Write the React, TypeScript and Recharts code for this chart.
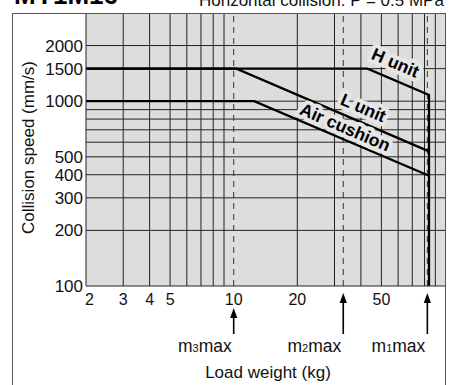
import React from 'react';
import { ComposedChart, Line, XAxis, YAxis, CartesianGrid, ReferenceLine } from 'recharts';

// Axis ticks and grid values (log-log chart)
const loadTicks = [2, 3, 4, 5, 10, 20, 50];
const speedTicks = [100, 200, 300, 400, 500, 1000, 1500, 2000];
const loadGrid = [3, 4, 5, 6, 7, 8, 9, 20, 30, 40, 50, 60, 70, 80, 90];
const speedGrid = [200, 300, 400, 500, 600, 700, 800, 900, 1000, 1500, 2000];

// Maximum load weights m3, m2, m1 (kg)
const maxLoads = [10, 33, 82.5];
const maxLoadIndex = ['3', '2', '1'];

// Allowable collision speed curves
const hUnitLoad = [2, 43, 84, 84];
const hUnitSpeed = [1500, 1500, 1080, 100];
const lUnitLoad = [2, 10.3, 84];
const lUnitSpeed = [1500, 1500, 535];
const airLoad = [2, 12.5, 84];
const airSpeed = [1000, 1000, 395];

const toPoints = (load: number[], speed: number[]) =>
  load.map((x, i) => ({ load: x, speed: speed[i] }));

const hUnit = toPoints(hUnitLoad, hUnitSpeed);
const lUnit = toPoints(lUnitLoad, lUnitSpeed);
const airCushion = toPoints(airLoad, airSpeed);

const FONT = '"Liberation Sans", Arial, Helvetica, sans-serif';
const BG = '#dddddd';
const SLOPE_ANGLE = 23.3;

function LoadTick(props: any) {
  const { x, y, payload } = props;
  const first = payload.value === loadTicks[0];
  return (
    <text
      x={first ? x - 1 : x}
      y={y}
      dy="0.71em"
      textAnchor={first ? 'start' : 'middle'}
      fontSize={16}
      fill="#111"
      fontFamily={FONT}
    >
      {payload.value}
    </text>
  );
}

function MaxLoadTick(props: any) {
  const { x, y, payload } = props;
  const i = maxLoads.indexOf(payload.value);
  // an arrow under a labelled tick starts below that label
  const top = loadTicks.includes(payload.value) ? y : y - 15;
  const bottom = y + 26;
  return (
    <g>
      <line x1={x} x2={x} y1={top + 8} y2={bottom} stroke="#000" strokeWidth={1.6} />
      <path d={`M${x},${top} L${x - 3.6},${top + 10} L${x + 3.6},${top + 10} Z`} fill="#000" />
      <text x={x - 2} y={y + 44} textAnchor="end" fontSize={17.5} fill="#111" fontFamily={FONT}>
        m<tspan fontSize={11}>{maxLoadIndex[i]}</tspan>max
      </text>
    </g>
  );
}

// Rotated curve name with a light halo that clears the grid behind it
const curveLabel = (text: string, dx: number, dy: number) => (props: any) => {
  const { x, y, index } = props;
  if (index !== 1) return <g key={`${text}-skip-${index}`} />;
  const common = {
    transform: `translate(${x + dx},${y + dy}) rotate(${SLOPE_ANGLE})`,
    textAnchor: 'middle' as const,
    dy: '0.35em',
    fontSize: 17.5,
    fontWeight: 'bold' as const,
    fontFamily: FONT,
  };
  return (
    <g key={`${text}-label`}>
      <text {...common} fill="#e6e6e6" stroke="#e6e6e6" strokeWidth={8} strokeLinejoin="round">
        {text}
      </text>
      <text {...common} fill="#000">
        {text}
      </text>
    </g>
  );
};

export default function App() {
  return (
    <div style={{ position: 'absolute', left: 0, top: 0, width: 449, height: 385, overflow: 'hidden', background: '#fff', fontFamily: FONT }}>
      <ComposedChart
        width={449}
        height={385}
        margin={{ top: 13, right: 4, left: 26, bottom: 7 }}
        style={{ fontFamily: FONT }}
      >
        <CartesianGrid
          xAxisId="load"
          yAxisId="speed"
          fill={BG}
          fillOpacity={1}
          stroke="#222"
          strokeWidth={1}
          horizontalValues={speedGrid}
          verticalValues={loadGrid}
        />
        <XAxis
          xAxisId="load"
          dataKey="load"
          type="number"
          scale="log"
          domain={[2, 100]}
          allowDataOverflow
          ticks={loadTicks}
          interval={0}
          tick={<LoadTick />}
          tickLine={false}
          tickSize={0}
          tickMargin={8}
          height={22}
          axisLine={{ stroke: '#222', strokeWidth: 1 }}
        />
        <XAxis
          xAxisId="mmax"
          dataKey="load"
          type="number"
          scale="log"
          domain={[2, 100]}
          allowDataOverflow
          ticks={maxLoads}
          interval={0}
          tick={<MaxLoadTick />}
          tickLine={false}
          tickSize={0}
          tickMargin={0}
          height={70}
          axisLine={false}
          label={{
            content: (p: any) => {
              const vb = p.viewBox || {};
              return (
                <text x={vb.x + vb.width / 2 + 2.5} y={vb.y + vb.height} textAnchor="middle" fontSize={17} fill="#111" fontFamily={FONT}>
                  Load weight (kg)
                </text>
              );
            },
          }}
        />
        <YAxis
          yAxisId="speed"
          dataKey="speed"
          type="number"
          scale="log"
          domain={[100, 3000]}
          allowDataOverflow
          ticks={speedTicks}
          interval={0}
          tick={{ fontSize: 17, fill: '#111', fontFamily: FONT }}
          tickLine={false}
          tickSize={0}
          tickMargin={3}
          width={60}
          axisLine={{ stroke: '#222', strokeWidth: 1 }}
          label={{
            content: (p: any) => {
              const vb = p.viewBox || {};
              return (
                <text
                  transform={`translate(${vb.x + 7.5},${vb.y + vb.height / 2 - 2}) rotate(-90)`}
                  textAnchor="middle"
                  fontSize={17}
                  fill="#111"
                  fontFamily={FONT}
                >
                  Collision speed (mm/s)
                </text>
              );
            },
          }}
        />
        {maxLoads.map((m) => (
          <ReferenceLine
            key={m}
            xAxisId="load"
            yAxisId="speed"
            x={m}
            stroke="#333"
            strokeWidth={1}
            strokeDasharray="6 5"
          />
        ))}
        <Line
          xAxisId="load"
          yAxisId="speed"
          data={hUnit}
          dataKey="speed"
          type="linear"
          stroke="#000"
          strokeWidth={2.3}
          dot={false}
          isAnimationActive={false}
          label={curveLabel('H unit', 28, -6)}
        />
        <Line
          xAxisId="load"
          yAxisId="speed"
          data={airCushion}
          dataKey="speed"
          type="linear"
          stroke="#000"
          strokeWidth={2.3}
          dot={false}
          isAnimationActive={false}
          label={curveLabel('Air cushion', 91, 26)}
        />
        <Line
          xAxisId="load"
          yAxisId="speed"
          data={lUnit}
          dataKey="speed"
          type="linear"
          stroke="#000"
          strokeWidth={2.3}
          dot={false}
          isAnimationActive={false}
          label={curveLabel('L unit', 127, 39)}
        />
      </ComposedChart>
      <svg
        width={449}
        height={385}
        style={{ position: 'absolute', left: 0, top: 0, pointerEvents: 'none' }}
      >
        <text x={14} y={4} fontSize={26} fontWeight="bold" fill="#000" fontFamily={FONT}>
          MY1M16
        </text>
        <text x={199} y={6} fontSize={17} fill="#111" fontFamily={FONT}>
          Horizontal collision: P = 0.5 MPa
        </text>
        <rect x={12.5} y={13.5} width={433} height={400} fill="none" stroke="#555" strokeWidth={1} />
      </svg>
    </div>
  );
}
